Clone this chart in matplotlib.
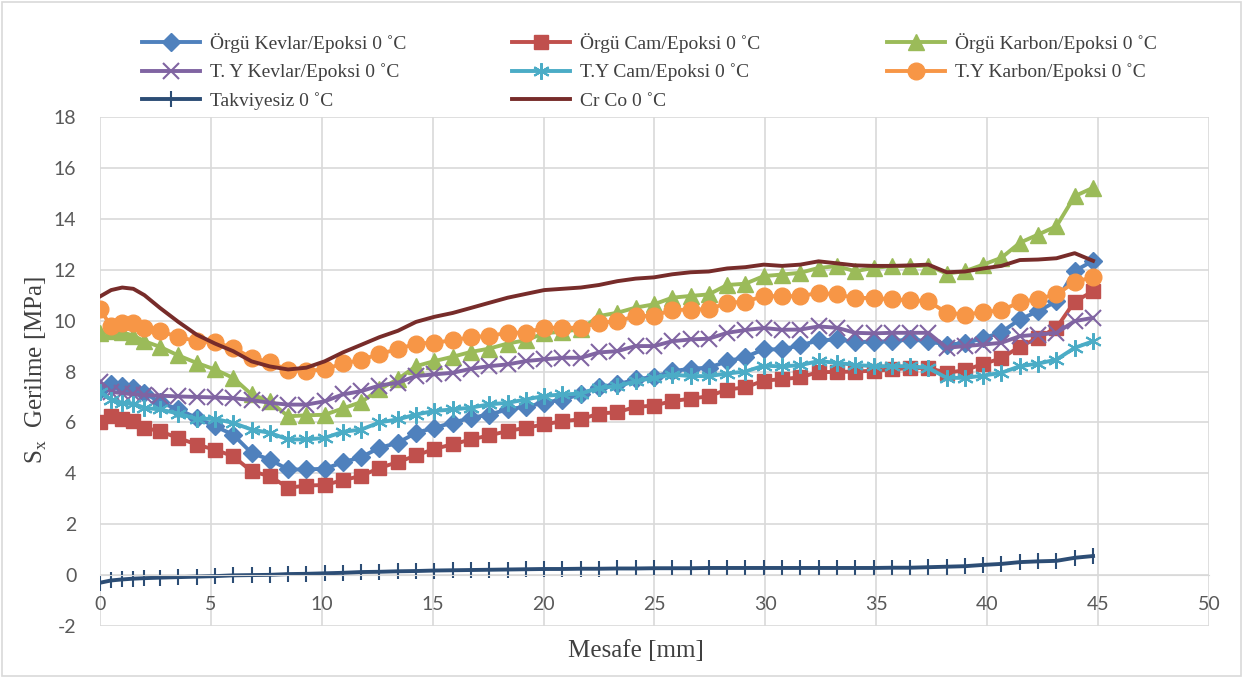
import matplotlib
matplotlib.use('Agg')
import matplotlib.pyplot as plt
from matplotlib.patches import Rectangle

# distance along the specimen [mm]
mesafe = [0, 0.5, 1.0, 1.5, 2.0, 2.7, 3.53, 4.35, 5.18, 6.0, 6.83, 7.65, 8.48, 9.3,
          10.13, 10.95, 11.78, 12.6, 13.43, 14.25, 15.08, 15.9, 16.73, 17.55, 18.38,
          19.2, 20.03, 20.85, 21.68, 22.5, 23.33, 24.15, 24.98, 25.8, 26.63, 27.45,
          28.28, 29.1, 29.93, 30.75, 31.58, 32.4, 33.23, 34.05, 34.88, 35.7, 36.53,
          37.35, 38.18, 39.0, 39.83, 40.65, 41.48, 42.3, 43.13, 43.95, 44.78]

orgu_kevlar = [7.29, 7.5, 7.45, 7.36, 7.16, 6.79, 6.51, 6.18, 5.85, 5.52, 4.8, 4.54, 4.15,
               4.15, 4.18, 4.43, 4.64, 5.0, 5.2, 5.59, 5.79, 5.99, 6.18, 6.31, 6.51, 6.62,
               6.77, 6.9, 7.1, 7.4, 7.49, 7.69, 7.79, 8.01, 8.11, 8.15, 8.4, 8.57, 8.87,
               8.87, 9.03, 9.22, 9.26, 9.16, 9.17, 9.19, 9.26, 9.19, 9.05, 9.12, 9.3, 9.55,
               10.05, 10.37, 10.76, 11.95, 12.35]
orgu_cam = [6.01, 6.24, 6.14, 6.05, 5.79, 5.65, 5.39, 5.13, 4.93, 4.67, 4.08, 3.89, 3.43,
            3.52, 3.54, 3.73, 3.9, 4.21, 4.44, 4.7, 4.96, 5.14, 5.33, 5.49, 5.66, 5.79,
            5.92, 6.05, 6.12, 6.35, 6.4, 6.61, 6.66, 6.84, 6.93, 7.03, 7.29, 7.38, 7.64,
            7.7, 7.77, 7.98, 7.98, 8.0, 8.03, 8.08, 8.14, 8.14, 7.95, 8.05, 8.3, 8.52,
            8.98, 9.32, 9.72, 10.75, 11.15]
orgu_karbon = [9.52, 9.58, 9.54, 9.41, 9.19, 8.97, 8.63, 8.34, 8.08, 7.75, 7.1, 6.83, 6.24,
               6.28, 6.3, 6.55, 6.8, 7.3, 7.7, 8.21, 8.41, 8.58, 8.77, 8.9, 9.1, 9.23,
               9.5, 9.57, 9.66, 10.18, 10.31, 10.51, 10.64, 10.9, 10.97, 11.03, 11.4,
               11.45, 11.75, 11.81, 11.88, 12.07, 12.14, 11.94, 12.07, 12.14, 12.14, 12.16,
               11.85, 11.94, 12.2, 12.47, 13.06, 13.38, 13.71, 14.89, 15.22]
ty_kevlar = [7.6, 7.2, 7.15, 7.1, 7.08, 7.05, 7.02, 7.0, 6.98, 6.95, 6.88, 6.77, 6.7, 6.7,
             6.83, 7.1, 7.23, 7.45, 7.56, 7.82, 7.89, 7.95, 8.11, 8.21, 8.28, 8.41, 8.48,
             8.54, 8.54, 8.75, 8.8, 9.0, 9.0, 9.19, 9.26, 9.29, 9.52, 9.63, 9.71, 9.64,
             9.65, 9.77, 9.72, 9.52, 9.5, 9.52, 9.52, 9.52, 8.93, 9.0, 9.06, 9.13, 9.39,
             9.45, 9.52, 9.98, 10.11]
ty_cam = [7.2, 6.9, 6.77, 6.74, 6.57, 6.51, 6.35, 6.14, 6.14, 5.98, 5.72, 5.59, 5.33, 5.33,
          5.39, 5.63, 5.72, 6.0, 6.12, 6.31, 6.45, 6.51, 6.58, 6.71, 6.77, 6.9, 7.04, 7.1,
          7.13, 7.36, 7.42, 7.62, 7.75, 7.88, 7.82, 7.82, 7.92, 8.0, 8.23, 8.2, 8.25, 8.41,
          8.34, 8.26, 8.21, 8.21, 8.21, 8.14, 7.75, 7.75, 7.84, 7.95, 8.21, 8.31, 8.47,
          8.93, 9.19]
ty_karbon = [10.44, 9.78, 9.91, 9.89, 9.71, 9.58, 9.36, 9.19, 9.15, 8.93, 8.54, 8.37, 8.05,
             8.03, 8.08, 8.32, 8.45, 8.7, 8.87, 9.1, 9.13, 9.23, 9.35, 9.4, 9.52, 9.53,
             9.72, 9.72, 9.72, 9.92, 9.97, 10.18, 10.19, 10.42, 10.43, 10.45, 10.69, 10.75,
             10.96, 10.96, 10.96, 11.09, 11.03, 10.89, 10.89, 10.83, 10.8, 10.76, 10.31,
             10.24, 10.33, 10.41, 10.72, 10.86, 11.03, 11.51, 11.72]
takviyesiz = [-0.3, -0.21, -0.17, -0.14, -0.12, -0.1, -0.08, -0.06, -0.04, -0.01, 0.0, 0.01,
              0.04, 0.05, 0.07, 0.09, 0.12, 0.13, 0.15, 0.16, 0.18, 0.19, 0.2, 0.21, 0.22,
              0.23, 0.24, 0.24, 0.25, 0.25, 0.26, 0.26, 0.27, 0.27, 0.27, 0.28, 0.28, 0.28,
              0.28, 0.28, 0.28, 0.28, 0.28, 0.28, 0.28, 0.29, 0.29, 0.31, 0.33, 0.35, 0.4,
              0.44, 0.51, 0.54, 0.56, 0.68, 0.75]
cr_co = [10.95, 11.2, 11.3, 11.25, 11.0, 10.5, 9.95, 9.45, 9.1, 8.8, 8.4, 8.2, 8.08, 8.15,
         8.4, 8.75, 9.05, 9.35, 9.6, 9.95, 10.15, 10.3, 10.5, 10.7, 10.9, 11.05, 11.2, 11.25,
         11.3, 11.4, 11.55, 11.65, 11.7, 11.82, 11.9, 11.93, 12.05, 12.1, 12.2, 12.15, 12.2,
         12.33, 12.25, 12.17, 12.15, 12.15, 12.17, 12.2, 11.9, 11.93, 12.05, 12.15, 12.38,
         12.4, 12.45, 12.65, 12.35]

xticks = [0, 5, 10, 15, 20, 25, 30, 35, 40, 45, 50]
yticks = [-2, 0, 2, 4, 6, 8, 10, 12, 14, 16, 18]

serif = ['Liberation Serif', 'DejaVu Serif']
plt.rcParams['mathtext.fontset'] = 'custom'
plt.rcParams['mathtext.rm'] = 'Liberation Serif'
plt.rcParams['axes.unicode_minus'] = False
plt.rcParams['font.family'] = ['Lato', 'DejaVu Sans']

fig = plt.figure(figsize=(12.43, 6.78), dpi=100)
ax = fig.add_axes([0.0805, 0.0767, 0.892, 0.7507])

lw = 2.8
h_ok, = ax.plot(mesafe, orgu_kevlar, color='#4F81BD', lw=lw, marker='D', ms=9.5,
                label='Örgü Kevlar/Epoksi 0 ˚C')
h_oc, = ax.plot(mesafe, orgu_cam, color='#C0504D', lw=lw, marker='s', ms=10,
                label='Örgü Cam/Epoksi 0 ˚C')
h_oka, = ax.plot(mesafe, orgu_karbon, color='#9BBB59', lw=lw, marker='^', ms=11,
                 label='Örgü Karbon/Epoksi 0 ˚C')
h_tk, = ax.plot(mesafe, ty_kevlar, color='#8064A2', lw=lw, marker='x', ms=11, mew=1.5,
                label='T. Y Kevlar/Epoksi 0 ˚C')
h_tc, = ax.plot(mesafe, ty_cam, color='#4BACC6', lw=lw, marker=(6, 2, 0), ms=12, mew=1.5,
                label='T.Y Cam/Epoksi 0 ˚C')
h_tka, = ax.plot(mesafe, ty_karbon, color='#F79646', lw=lw, marker='o', ms=12,
                 label='T.Y Karbon/Epoksi 0 ˚C')
h_tak, = ax.plot(mesafe, takviyesiz, color='#2C4D75', lw=lw, marker='|', ms=12, mew=1.5,
                 label='Takviyesiz 0 ˚C')
h_cr, = ax.plot(mesafe, cr_co, color='#772C2A', lw=lw, label='Cr Co 0 ˚C')

ax.set_xlim(0, 50)
ax.set_ylim(-2, 18)
ax.set_xticks(xticks)
ax.set_yticks(yticks)
ax.grid(True, color='#d9d9d9', lw=1.2)
ax.set_axisbelow(True)
for s in ['top', 'right', 'left']:
    ax.spines[s].set_visible(False)
ax.spines['bottom'].set_position(('data', 0))
ax.spines['bottom'].set_color('#d9d9d9')
ax.tick_params(axis='both', length=0, labelsize=14, labelcolor='#595959')
ax.tick_params(axis='x', pad=15)
ax.tick_params(axis='y', pad=17)

fig.text(0.512, 0.04, 'Mesafe [mm]', family=serif, fontsize=18, color='#404040',
         ha='center', va='center')
fig.text(0.029, 0.455, r'S$_\mathregular{x}$  Gerilme [MPa]', family=serif, fontsize=18,
         color='#404040', ha='center', va='center', rotation=90)

# one legend per column so the columns sit where they do in the original
columns = [([h_ok, h_tk, h_tak], 138), ([h_oc, h_tc, h_cr], 508), ([h_oka, h_tka], 883)]
for hs, xpx in columns:
    leg = fig.legend(handles=hs, loc='upper left', bbox_to_anchor=(xpx / 1243, 0.957),
                     frameon=False, prop={'family': serif, 'size': 14}, handlelength=3.0,
                     handletextpad=0.5, labelspacing=0.55, borderaxespad=0, borderpad=0.2)
    for t in leg.get_texts():
        t.set_color('#404040')

fig.add_artist(Rectangle((0.002, 0.003), 0.996, 0.994, transform=fig.transFigure,
                         fill=False, edgecolor='#d9d9d9', lw=1.2))

fig.savefig('out.png', dpi=100)
